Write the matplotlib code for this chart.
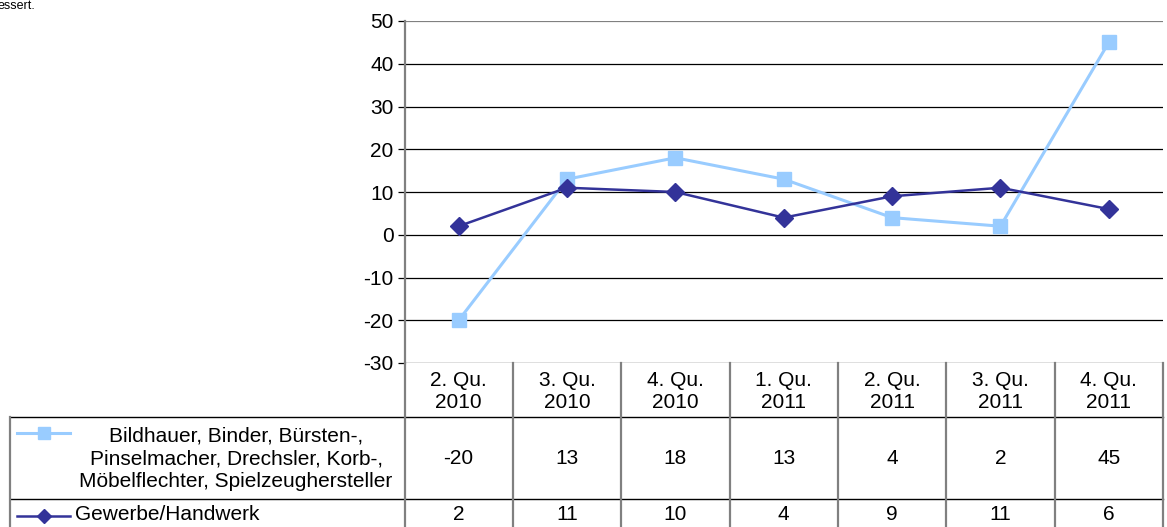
import matplotlib
matplotlib.use("Agg")
import matplotlib.pyplot as plt

# ---- data ----
quarters = ["2. Qu.\n2010", "3. Qu.\n2010", "4. Qu.\n2010", "1. Qu.\n2011",
            "2. Qu.\n2011", "3. Qu.\n2011", "4. Qu.\n2011"]
series1_name = "Bildhauer, Binder, Bürsten-,\nPinselmacher, Drechsler, Korb-,\nMöbelflechter, Spielzeughersteller"
series1 = [-20, 13, 18, 13, 4, 2, 45]
series2_name = "Gewerbe/Handwerk"
series2 = [2, 11, 10, 4, 9, 11, 6]
yticks = [-30, -20, -10, 0, 10, 20, 30, 40, 50]

c1 = "#99CCFF"
c2 = "#333399"
grey = "#808080"
FS = 15.0
plt.rcParams['font.family'] = ['Liberation Sans', 'DejaVu Sans']
plt.rcParams['axes.unicode_minus'] = False

W, H = 1167, 527
fig = plt.figure(figsize=(W / 100, H / 100), dpi=100)

# pixel layout
x0, x1 = 404.5, 1163.0
ytop, ybot = 21.0, 363.0
yhdr, yrow1, yend = 417.0, 499.0, 527.0
xleft = 10.0

ax = fig.add_axes([x0 / W, 1 - ybot / H, (x1 - x0) / W, (ybot - ytop) / H])
n = len(quarters)
xs = list(range(n))
ax.set_xlim(-0.5, n - 0.5)
ax.set_ylim(min(yticks), max(yticks))
ax.set_yticks(yticks)
ax.set_xticks([])
for v in yticks:
    if v == max(yticks):
        ax.axhline(v, color=grey, lw=1.6, zorder=1)
    else:
        ax.axhline(v, color="black", lw=0.9, zorder=1)
for s in ["top", "right", "bottom"]:
    ax.spines[s].set_visible(False)
ax.spines["left"].set_color(grey)
ax.spines["left"].set_linewidth(1.6)
ax.tick_params(axis="y", length=5, width=0.9, color="black", pad=3, labelsize=FS)
ax.patch.set_alpha(0)

ax.plot(xs, series1, color=c1, lw=2.2, marker="s", ms=10.5, mec=c1, mfc=c1, zorder=3, clip_on=False)
ax.plot(xs, series2, color=c2, lw=1.8, marker="D", ms=9, mec=c2, mfc=c2, zorder=4, clip_on=False)

# overlay for table
ov = fig.add_axes([0, 0, 1, 1])
ov.set_xlim(0, W)
ov.set_ylim(H, 0)
ov.axis("off")
ov.patch.set_alpha(0)

colw = (x1 - x0) / n
# horizontal lines
ov.plot([xleft, x1], [yhdr, yhdr], color="black", lw=1.0)
ov.plot([xleft, x1], [yrow1, yrow1], color="black", lw=1.0)
# vertical lines
ov.plot([xleft, xleft], [yhdr, yend], color=grey, lw=1.6)
for i in range(n + 1):
    xv = x0 + i * colw
    ov.plot([xv, xv], [ybot, yend], color=grey, lw=1.6)

for i, q in enumerate(quarters):
    xc = x0 + (i + 0.5) * colw
    ov.text(xc, (ybot + yhdr) / 2 + 1, q, ha="center", va="center", fontsize=FS, linespacing=1.2)
    ov.text(xc, (yhdr + yrow1) / 2 + 1, str(series1[i]), ha="center", va="center", fontsize=FS)
    ov.text(xc, (yrow1 + yend) / 2 + 2, str(series2[i]), ha="center", va="center", fontsize=FS)

# row labels with legend keys
ov.text(236, (yhdr + yrow1) / 2 + 1, series1_name, ha="center", va="center", fontsize=FS, linespacing=1.25)
ov.plot([17, 70], [433, 433], color=c1, lw=2.2)
ov.plot([44], [433], marker="s", ms=8, color=c1)
ov.text(75, (yrow1 + yend) / 2 + 2, series2_name, ha="left", va="center", fontsize=FS)
ov.plot([17, 70], [516, 516], color=c2, lw=1.8)
ov.plot([44], [516], marker="D", ms=7, color=c2)

# fragment of preceding text at top
ov.text(-2, 0, "essert.", ha="left", va="top", fontsize=9)

fig.savefig("out.png", dpi=100)
